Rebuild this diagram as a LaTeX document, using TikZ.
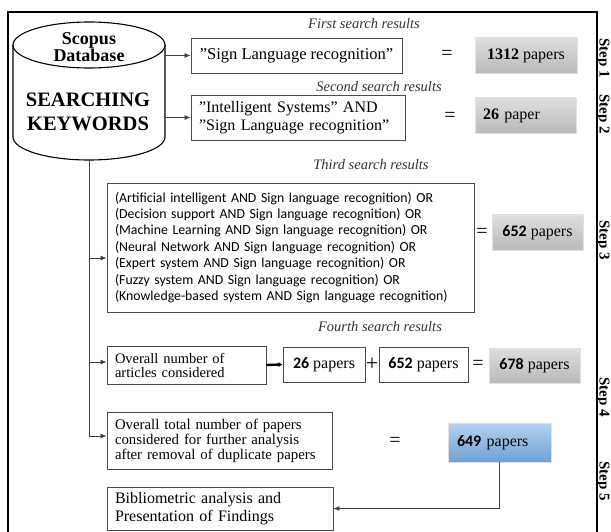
\documentclass[tikz,border=0pt]{standalone}
\usepackage{fontspec}
\setmainfont{Liberation Serif}
\newfontfamily\calfont{Carlito}
\usetikzlibrary{arrows.meta}

\newcommand{\fsz}[2]{\fontsize{#1}{#2}\selectfont}
\newcommand{\num}[1]{{\calfont\bfseries #1}}

\tikzset{
  >={Latex[length=6pt,width=5pt]},
  qbox/.style={draw=black!70, line width=0.9pt, inner xsep=8pt, inner ysep=0pt, align=left},
  resbox/.style={draw=black!12, top color=black!13, bottom color=black!27,
    minimum width=#1, minimum height=35pt, inner sep=0pt},
  bluebox/.style={draw=black!12, top color={rgb,255:red,178;green,210;blue,240},
    bottom color={rgb,255:red,112;green,160;blue,212}, minimum width=#1,
    minimum height=39pt, inner sep=0pt},
  title/.style={font=\fsz{14.5}{16}\itshape, text=black!80},
  link/.style={draw=black!75, line width=0.8pt, ->},
  steplbl/.style={font=\fsz{15}{16}\bfseries, rotate=-90},
  eq/.style={font=\fsz{20}{20}},
}

\begin{document}
\begin{tikzpicture}[x=1pt, y=-1pt]
      \useasboundingbox (0,0) rectangle (611,532);

      % frame
      \draw[line width=1.3pt] (8,532) -- (8,12) -- (597,12) -- (597,532);

      % database
      \draw[line width=1.1pt] (13,45) -- (13,137)
        arc[start angle=180, end angle=0, x radius=76, y radius=23] -- (165,45);
      \draw[line width=1.1pt] (89,45) ellipse [x radius=76, y radius=23];
      \node[inner sep=0pt, minimum width=152pt, minimum height=138pt] (db) at (89,91) {};
      \node[font=\fsz{18}{16}\bfseries, align=center] (dbname) at (89,47) {Scopus\\Database};
      \node[font=\fsz{20.5}{24}\bfseries, align=center] (dbkey) at (88,112) {SEARCHING\\KEYWORDS};

      % first search
      \node[title] (t1) at (364,24) {First search results};
      \node[qbox, inner xsep=0pt, align=center, minimum width=211pt, minimum height=35pt, font=\fsz{16.5}{18}] (q1) at (296.5,55.5) {"Sign Language recognition"};
      \node[eq] (e1) at (447,55) {=};
      \node[resbox=102pt, font=\fsz{16}{18}] (r1) at (526,55.5) {\textbf{1312} papers};

      % second search
      \node[qbox, text width=198pt, minimum height=45pt, font=\fsz{16}{18}] (q2) at (298,117.5) {"Intelligent Systems" AND\\"Sign Language recognition"};
      \node[title] (t2) at (379,87) {Second search results};
      \node[eq] (e2) at (450,117) {=};
      \node[resbox=101pt, font=\fsz{16}{18}, text width=85pt, align=left] (r2) at (525.5,115.5) {\textbf{26} paper};

      % third search
      \node[title] (t3) at (371,165) {Third search results};
      \node[qbox, text width=351pt, minimum height=129pt, font=\calfont\fsz{13.8}{16.4}] (q3) at (290.5,247.5) {(Artificial intelligent AND Sign language recognition) OR\\
        (Decision support AND Sign language recognition) OR\\
        (Machine Learning AND Sign language recognition) OR\\
        (Neural Network AND Sign language recognition) OR\\
        (Expert system AND Sign language recognition) OR\\
        (Fuzzy system AND Sign language recognition) OR\\
        (Knowledge-based system AND Sign language recognition)};
      \node[eq] (e3) at (482,233) {=};
      \node[resbox=91pt, font=\fsz{16}{18}] (r3) at (537.5,232.5) {\num{652} papers};

      % fourth search
      \node[title] (t4) at (380,327) {Fourth search results};
      \node[qbox, text width=143pt, minimum height=38pt, font=\fsz{14.5}{14}] (q4) at (186.5,365) {Overall number of\\articles considered};
      \node[qbox, inner xsep=0pt, align=center, minimum width=82pt, minimum height=35pt, font=\fsz{16}{18}] (a26) at (324,364.5) {\num{26} papers};
      \node[font=\fsz{22}{22}] (plus) at (372,364) {+};
      \node[qbox, inner xsep=0pt, align=center, minimum width=89pt, minimum height=35pt, font=\fsz{16}{18}] (a652) at (423.5,364.5) {\num{652} papers};
      \node[eq] (e4) at (478,365) {=};
      \node[resbox=91pt, font=\fsz{16}{18}] (r4) at (534.5,365.5) {\num{678} papers};

      % duplicates removed
      \node[qbox, text width=209pt, minimum height=57pt, font=\fsz{14.8}{15}] (q5) at (219.5,440.5) {Overall total number of papers\\considered for further analysis\\after removal of duplicate papers};
      \node[eq] (e5) at (395,442) {=};
      \node[bluebox=103pt, font=\fsz{16}{18}, text width=85pt, align=left] (r5) at (499.5,442.5) {\num{649} papers};

      % analysis
      \node[qbox, text width=210pt, minimum height=43pt, font=\fsz{16}{18}] (q6) at (220,508.5) {Bibliometric analysis and\\Presentation of Findings};

      % connectors
      \coordinate (j3) at (89,258);
      \coordinate (j4) at (89,362);
      \coordinate (j5) at (89,436);
      \draw[link] (db.east |- q1.west) -- (q1.west);
      \draw[link] (db.east |- q2.west) -- (q2.west);
      \draw[link, -] (db.south) -- (j5);
      \draw[link] (j3) -- (j3 -| q3.west);
      \draw[link] (j4) -- (j4 -| q4.west);
      \draw[link] (j5) -- (j5 -| q5.west);
      \draw[line width=2.4pt, -{Latex[length=4pt,width=5pt]}] (q4.east) -- (a26.west);
      \draw[link] (r5.south) |- (q6.east);

      % steps
      \foreach \y/\n in {58/1,114/2,240/3,397/4,481/5}
        \node[steplbl] (step\n) at (603,\y) {Step \n};

\end{tikzpicture}
\end{document}
